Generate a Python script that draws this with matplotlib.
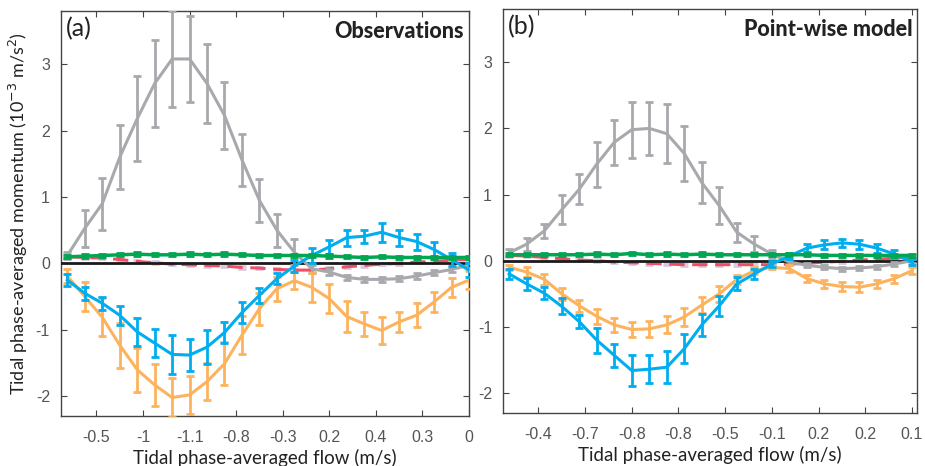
import numpy as np
import matplotlib
matplotlib.use("Agg")
import matplotlib.pyplot as plt

plt.rcParams['font.family'] = ['Lato', 'DejaVu Sans']

# phase bins (index along the tidal cycle)
phase = np.arange(24)

# ---------------- Panel (a): Observations ----------------
a_gray = [0.12, 0.53, 0.90, 1.60, 2.18, 2.71, 3.08, 3.08, 2.71, 2.23, 1.56, 0.95,
          0.50, 0.17, -0.08, -0.13, -0.21, -0.24, -0.24, -0.23, -0.19, -0.14, -0.09, -0.03]
a_gray_err = [0.05, 0.28, 0.39, 0.48, 0.64, 0.66, 0.73, 0.65, 0.60, 0.51, 0.39, 0.32,
              0.25, 0.20, 0.06, 0.05, 0.04, 0.04, 0.04, 0.04, 0.04, 0.04, 0.04, 0.04]
a_blue = [-0.25, -0.45, -0.60, -0.78, -1.03, -1.20, -1.37, -1.38, -1.26, -1.04, -0.74, -0.48,
          -0.23, -0.04, 0.12, 0.25, 0.39, 0.41, 0.47, 0.39, 0.33, 0.21, 0.06, -0.10]
a_blue_err = [0.09, 0.10, 0.10, 0.14, 0.21, 0.21, 0.29, 0.24, 0.26, 0.16, 0.16, 0.11,
              0.08, 0.09, 0.12, 0.11, 0.12, 0.10, 0.14, 0.12, 0.12, 0.11, 0.10, 0.10]
a_orange = [-0.19, -0.50, -0.81, -1.23, -1.60, -1.83, -2.02, -1.98, -1.78, -1.51, -1.08, -0.68,
            -0.38, -0.26, -0.36, -0.53, -0.80, -0.91, -1.01, -0.88, -0.78, -0.58, -0.36, -0.25]
a_orange_err = [0.10, 0.22, 0.29, 0.34, 0.33, 0.31, 0.29, 0.29, 0.28, 0.32, 0.29, 0.24,
                0.18, 0.13, 0.22, 0.22, 0.23, 0.18, 0.21, 0.15, 0.18, 0.15, 0.14, 0.13]
a_green = [0.10, 0.11, 0.12, 0.13, 0.14, 0.13, 0.13, 0.14, 0.13, 0.14, 0.13, 0.12,
           0.12, 0.12, 0.12, 0.11, 0.10, 0.09, 0.10, 0.09, 0.09, 0.09, 0.09, 0.09]
a_red = [0.10, 0.09, 0.08, 0.06, 0.03, 0.01, -0.01, -0.02, -0.03, -0.04, -0.06, -0.07,
         -0.09, -0.10, -0.10, -0.08, -0.05, -0.03, -0.01, 0.00, 0.02, 0.03, 0.05, 0.06]
a_ticklabels = ['-0.5', '-1', '-1.1', '-0.8', '-0.3', '0.2', '0.4', '0.3', '0']

# ---------------- Panel (b): Point-wise model ----------------
b_gray = [0.12, 0.25, 0.45, 0.77, 1.08, 1.46, 1.79, 1.98, 2.00, 1.92, 1.62, 1.18,
          0.83, 0.43, 0.25, 0.10, -0.02, -0.07, -0.10, -0.12, -0.11, -0.09, -0.05, 0.00]
b_gray_err = [0.05, 0.10, 0.10, 0.22, 0.23, 0.34, 0.34, 0.42, 0.40, 0.45, 0.42, 0.31,
              0.28, 0.14, 0.12, 0.06, 0.04, 0.03, 0.03, 0.03, 0.03, 0.03, 0.03, 0.03]
b_blue = [-0.20, -0.35, -0.49, -0.69, -0.92, -1.20, -1.43, -1.66, -1.64, -1.61, -1.33, -0.97,
          -0.68, -0.35, -0.20, -0.05, 0.07, 0.19, 0.24, 0.27, 0.25, 0.19, 0.10, -0.02]
b_blue_err = [0.07, 0.09, 0.09, 0.12, 0.10, 0.19, 0.17, 0.23, 0.21, 0.24, 0.22, 0.17,
              0.15, 0.10, 0.07, 0.05, 0.05, 0.06, 0.07, 0.06, 0.07, 0.07, 0.06, 0.05]
b_orange = [-0.10, -0.17, -0.28, -0.50, -0.68, -0.84, -0.97, -1.04, -1.03, -0.97, -0.85, -0.67,
            -0.50, -0.28, -0.15, -0.10, -0.12, -0.27, -0.35, -0.39, -0.40, -0.35, -0.27, -0.15]
b_orange_err = [0.04, 0.07, 0.08, 0.09, 0.09, 0.11, 0.11, 0.12, 0.12, 0.13, 0.13, 0.12,
                0.12, 0.07, 0.05, 0.03, 0.05, 0.05, 0.06, 0.07, 0.08, 0.06, 0.06, 0.05]
b_green = [0.09, 0.09, 0.09, 0.09, 0.09, 0.10, 0.09, 0.11, 0.09, 0.10, 0.09, 0.10,
           0.09, 0.09, 0.09, 0.09, 0.09, 0.09, 0.08, 0.08, 0.08, 0.08, 0.08, 0.08]
b_red = [0.08, 0.07, 0.05, 0.03, 0.01, 0.00, -0.02, -0.03, -0.04, -0.05, -0.06, -0.06,
         -0.06, -0.06, -0.06, -0.06, -0.05, -0.04, -0.02, -0.01, 0.01, 0.02, 0.04, 0.05]
b_ticklabels = ['-0.4', '-0.7', '-0.8', '-0.8', '-0.5', '-0.1', '0.2', '0.2', '0.1']

ytick_vals = [-2, -1, 0, 1, 2, 3]
ytick_labels = ['-2', '-1', '0', '1', '2', '3']

C_GRAY, C_GRAY_CAP = '#A7A9AC', '#A7A9AC'
C_BLUE, C_BLUE_CAP = '#00AEEF', '#9ED8F0'
C_ORANGE, C_ORANGE_CAP = '#FDB35E', '#FFC98A'
C_GREEN, C_GREEN_CAP = '#00A651', '#B9DEA0'
C_RED, C_RED_CAP = '#F04E63', '#D9C6E0'

fig = plt.figure(figsize=(9.25, 4.66), dpi=100)
ax_a = fig.add_axes([0.066, 0.107, 0.441, 0.869])
ax_b = fig.add_axes([0.544, 0.114, 0.4476, 0.866])


def draw_series(ax, y, err, color, capcolor, lw=2.2, elw=2.0, ls='-', z=3, cap=3.2):
    line, caps, bars = ax.errorbar(phase, y, yerr=err, color=color, ecolor=color,
                                   lw=lw, elinewidth=elw, capsize=cap, capthick=2.0,
                                   ls=ls, zorder=z)
    for c in caps:
        c.set_color(capcolor)
        c.set_zorder(z)
    for b in bars:
        b.set_zorder(z)
    return line


def setup(ax, data, title, letter, xlim):
    gray, gray_e, blue, blue_e, orange, orange_e, green, red, labels = data
    ax.axhline(0, color='#1a1a1a', lw=2.0, zorder=2.6)
    err_small = [0.02] * len(red)
    draw_series(ax, red, err_small, C_RED_CAP, C_RED_CAP, lw=0.0, elw=1.0, z=2.4, cap=3.0)
    ax.plot(phase, red, color=C_RED, lw=2.2, ls=(0, (5, 2.5)), zorder=2.5)
    draw_series(ax, gray, gray_e, C_GRAY, C_GRAY_CAP, z=3)
    draw_series(ax, orange, orange_e, C_ORANGE, C_ORANGE_CAP, z=3.2)
    draw_series(ax, blue, blue_e, C_BLUE, C_BLUE_CAP, z=3.4)
    err_g = [0.025] * len(green)
    draw_series(ax, green, err_g, C_GREEN, C_GREEN_CAP, lw=2.5, elw=1.0, z=3.6)

    ax.set_xlim(*xlim)
    ax.set_ylim(-2.3, 3.8)
    tickpos = [1 + 2 / 3 + 8 / 3 * k for k in range(len(labels))]
    ax.set_xticks(tickpos)
    ax.set_xticklabels(labels, family='Liberation Sans')
    ax.set_yticks(ytick_vals)
    ax.set_yticklabels(ytick_labels, family='Liberation Sans')
    ax.tick_params(direction='in', top=True, right=True, length=4, width=0.8,
                   colors='#444444', labelcolor='#555555', labelsize=11.5)
    ax.tick_params(axis='x', pad=10)
    ax.tick_params(axis='y', pad=8)
    for s in ax.spines.values():
        s.set_color('#444444')
        s.set_linewidth(1.0)
    ax.set_xlabel('Tidal phase-averaged flow (m/s)', fontsize=13.5, color='#222222', labelpad=3)
    ax.text(0.012, 0.985, letter, transform=ax.transAxes, fontsize=18, va='top', ha='left',
            color='#222222')
    ax.text(0.988, 0.975, title, transform=ax.transAxes, fontsize=15.5, fontweight='black',
            va='top', ha='right', color='#222222')


setup(ax_a, (a_gray, a_gray_err, a_blue, a_blue_err, a_orange, a_orange_err, a_green, a_red,
             a_ticklabels), 'Observations', '(a)', (-0.36, 23.0))
setup(ax_b, (b_gray, b_gray_err, b_blue, b_blue_err, b_orange, b_orange_err, b_green, b_red,
             b_ticklabels), 'Point-wise model', '(b)', (-0.34, 23.3))

ax_a.set_ylabel('Tidal phase-averaged momentum (10$^{-3}$ m/s$^{2}$)', fontsize=13,
                color='#222222', labelpad=4)

fig.savefig('out.png', dpi=100)
